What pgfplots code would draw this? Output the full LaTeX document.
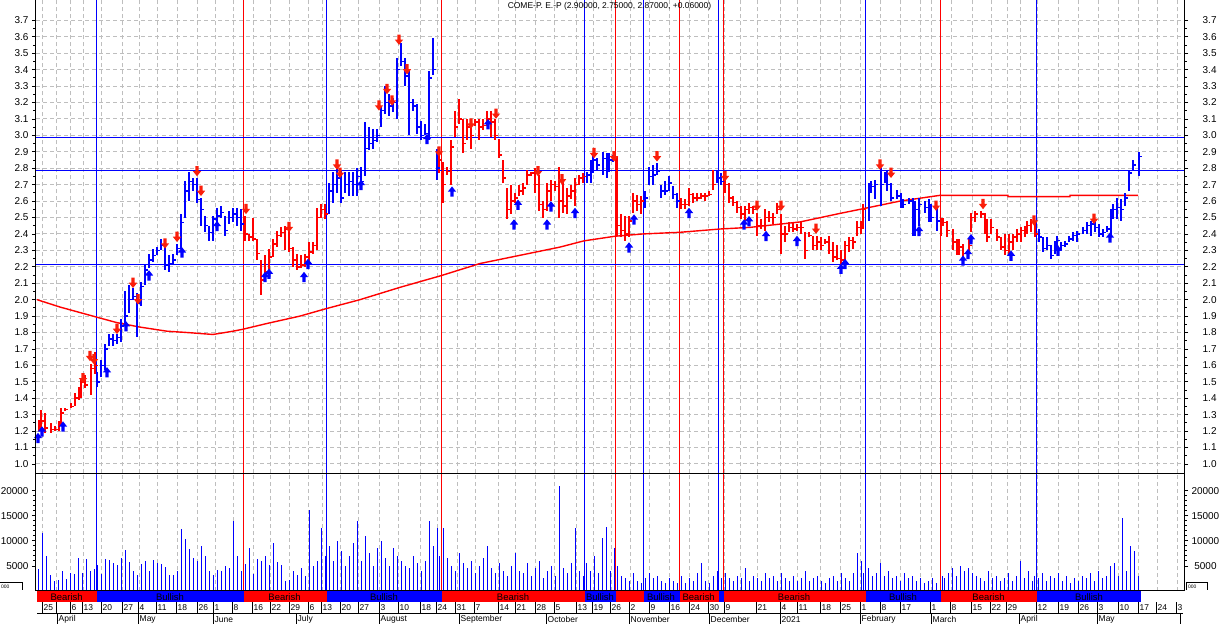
\documentclass[border=0pt]{standalone}
\usepackage{fontspec}
\setmainfont{Liberation Sans}
\usepackage{pgfplots}
\usepackage{pgfplotstable}
\pgfplotsset{compat=1.18}
\pgfdeclareplotmark{rtick}{\pgfpathmoveto{\pgfqpoint{0bp}{0bp}}\pgfpathlineto{\pgfqpoint{3bp}{0bp}}\pgfusepathqstroke}
\pgfdeclareplotmark{darr}{%
 \pgfpathmoveto{\pgfqpoint{-1.6bp}{5.5bp}}\pgfpathlineto{\pgfqpoint{1.6bp}{5.5bp}}%
 \pgfpathlineto{\pgfqpoint{1.6bp}{0.5bp}}\pgfpathlineto{\pgfqpoint{4.2bp}{0.5bp}}%
 \pgfpathlineto{\pgfqpoint{0bp}{-4.8bp}}\pgfpathlineto{\pgfqpoint{-4.2bp}{0.5bp}}%
 \pgfpathlineto{\pgfqpoint{-1.6bp}{0.5bp}}\pgfpathclose\pgfusepathqfill}
\pgfdeclareplotmark{uarr}{%
 \pgfpathmoveto{\pgfqpoint{-1.6bp}{-5.5bp}}\pgfpathlineto{\pgfqpoint{1.6bp}{-5.5bp}}%
 \pgfpathlineto{\pgfqpoint{1.6bp}{-0.5bp}}\pgfpathlineto{\pgfqpoint{4.2bp}{-0.5bp}}%
 \pgfpathlineto{\pgfqpoint{0bp}{4.8bp}}\pgfpathlineto{\pgfqpoint{-4.2bp}{-0.5bp}}%
 \pgfpathlineto{\pgfqpoint{-1.6bp}{-0.5bp}}\pgfpathclose\pgfusepathqfill}

\pgfplotstableread{
x l h c v
38 1.20 1.27 1.22 4400
42 1.21 1.33 1.26 11600
46 1.19 1.31 1.22 6900
50 1.19 1.25 1.21 3200
54 1.20 1.23 1.21 1900
58 1.20 1.26 1.25 2200
62 1.23 1.34 1.31 4000
66 1.32 1.34 1.33 2300
70 1.34 1.37 1.35 3600
74 1.35 1.43 1.40 3400
78 1.39 1.47 1.44 6600
82 1.40 1.52 1.50 3600
86 1.46 1.54 1.48 6300
90 1.42 1.61 1.58 4000
94 1.55 1.68 1.60 4400
245 2.36 2.51 2.40 5400
249 2.36 2.40 2.38 8600
253 2.36 2.50 2.37 3400
257 2.24 2.37 2.28 6400
261 2.03 2.24 2.12 6000
265 2.15 2.27 2.17 7000
269 2.16 2.31 2.26 5100
273 2.26 2.37 2.34 9600
277 2.32 2.42 2.39 5700
281 2.38 2.44 2.41 5200
285 2.30 2.45 2.43 2000
289 2.29 2.44 2.31 2200
293 2.20 2.32 2.24 3900
297 2.18 2.28 2.20 3200
301 2.19 2.27 2.21 4500
305 2.20 2.28 2.26 3000
309 2.21 2.35 2.29 16200
313 2.28 2.35 2.33 5000
317 2.30 2.56 2.50 6000
321 2.50 2.58 2.55 12500
325 2.49 2.58 2.52 7000
439 2.77 2.91 2.85 7000
443 2.59 2.84 2.70 12500
447 2.76 2.81 2.78 6500
451 2.70 2.97 2.93 5000
455 2.99 3.15 3.05 4000
459 3.07 3.22 3.10 7500
463 2.89 3.10 2.95 5500
467 2.97 3.10 3.05 4500
471 2.92 3.07 3.00 6000
475 3.06 3.10 3.08 3500
479 2.97 3.10 3.05 5000
483 3.03 3.10 3.06 6500
487 3.06 3.15 3.10 9000
491 2.99 3.15 3.08 4500
495 2.97 3.10 3.00 3500
499 2.86 2.98 2.88 5500
503 2.71 2.85 2.74 4000
507 2.49 2.68 2.55 3000
511 2.52 2.70 2.60 5000
515 2.59 2.65 2.62 7500
519 2.63 2.70 2.66 4000
523 2.64 2.71 2.68 3500
527 2.70 2.79 2.76 5500
531 2.75 2.78 2.77 3000
535 2.65 2.80 2.70 4500
539 2.54 2.76 2.58 6000
543 2.50 2.60 2.55 2500
547 2.54 2.71 2.66 4000
551 2.60 2.73 2.70 5000
555 2.66 2.72 2.69 3000
559 2.50 2.81 2.60 21000
563 2.53 2.73 2.57 4500
567 2.52 2.68 2.63 3500
571 2.61 2.70 2.66 5500
575 2.57 2.74 2.70 12500
579 2.70 2.76 2.74 4000
583 2.71 2.77 2.75 3000
617 2.39 2.87 2.45 5000
621 2.38 2.52 2.42 3000
625 2.36 2.51 2.40 2500
629 2.38 2.51 2.48 2000
633 2.53 2.65 2.60 3500
637 2.54 2.64 2.58 2000
641 2.52 2.63 2.60 1500
681 2.55 2.62 2.58 3000
685 2.55 2.61 2.58 1500
689 2.57 2.68 2.64 2500
693 2.59 2.65 2.62 2000
697 2.60 2.65 2.62 3500
701 2.61 2.65 2.63 5500
705 2.60 2.65 2.63 2000
709 2.63 2.66 2.64 1500
713 2.67 2.79 2.70 3000
725 2.65 2.77 2.70 3500
729 2.59 2.71 2.62 2500
733 2.57 2.63 2.59 2000
737 2.53 2.60 2.56 3000
741 2.49 2.57 2.52 2500
745 2.48 2.57 2.55 4500
749 2.52 2.59 2.56 2000
753 2.52 2.57 2.55 3000
757 2.39 2.53 2.45 2500
761 2.43 2.49 2.45 2000
765 2.42 2.55 2.50 3500
769 2.47 2.54 2.50 2500
773 2.46 2.53 2.50 3000
777 2.52 2.59 2.55 2000
781 2.28 2.52 2.40 3500
785 2.35 2.45 2.40 2500
789 2.41 2.47 2.44 2000
793 2.41 2.47 2.43 3000
797 2.42 2.46 2.44 2000
801 2.40 2.47 2.44 2500
805 2.25 2.41 2.30 4000
809 2.38 2.41 2.39 2000
813 2.30 2.39 2.33 2500
817 2.30 2.39 2.35 3000
821 2.30 2.38 2.33 2000
825 2.34 2.37 2.35 1500
829 2.28 2.39 2.30 2500
833 2.23 2.35 2.26 3000
837 2.24 2.33 2.25 2000
841 2.21 2.30 2.24 3500
845 2.23 2.36 2.33 2500
849 2.29 2.38 2.36 2000
853 2.31 2.38 2.35 3500
857 2.39 2.48 2.44 7500
861 2.40 2.48 2.45 6000
863 2.43 2.58 2.55 3500
942 2.39 2.50 2.45 3000
944 2.45 2.50 2.47 2500
948 2.38 2.48 2.42 3500
952 2.30 2.43 2.35 4500
956 2.27 2.37 2.30 3000
960 2.27 2.37 2.32 5000
964 2.25 2.34 2.28 4000
968 2.28 2.37 2.33 4500
972 2.41 2.53 2.50 3500
976 2.47 2.54 2.52 3000
980 2.50 2.54 2.52 2500
984 2.40 2.53 2.43 2000
988 2.35 2.49 2.38 4000
992 2.40 2.49 2.44 2500
996 2.36 2.43 2.38 3000
1000 2.30 2.38 2.32 2000
1004 2.27 2.40 2.30 2500
1008 2.27 2.40 2.35 3500
1012 2.30 2.40 2.38 2000
1016 2.35 2.43 2.40 3000
1020 2.35 2.44 2.42 6000
1024 2.38 2.45 2.43 2500
1028 2.40 2.48 2.45 4000
1032 2.41 2.49 2.47 2000
1034 2.38 2.47 2.40 3000
}\redbars

\pgfplotstableread{
x l h c v
97 1.47 1.56 1.50 5200
101 1.53 1.63 1.60 3400
105 1.57 1.73 1.70 6400
109 1.72 1.79 1.76 6200
113 1.72 1.79 1.75 5600
117 1.73 1.79 1.77 5200
121 1.74 1.88 1.84 6600
125 1.86 2.05 1.90 8200
129 1.92 2.09 2.00 5800
133 2.00 2.07 2.02 4000
137 1.77 2.04 1.98 3100
141 1.96 2.11 2.08 5400
145 2.09 2.21 2.18 6000
149 2.19 2.28 2.24 4000
153 2.23 2.31 2.27 6200
157 2.27 2.32 2.30 5600
161 2.30 2.37 2.33 5400
165 2.18 2.33 2.21 4800
169 2.17 2.27 2.22 3200
173 2.22 2.28 2.24 3200
177 2.27 2.34 2.31 3900
181 2.31 2.52 2.47 12400
185 2.50 2.72 2.66 10400
189 2.60 2.78 2.72 8400
193 2.66 2.74 2.70 6600
197 2.59 2.74 2.61 5900
201 2.45 2.62 2.55 9000
205 2.41 2.51 2.45 7000
209 2.36 2.45 2.41 4000
213 2.36 2.51 2.49 3200
217 2.46 2.56 2.51 4200
221 2.50 2.57 2.53 4000
225 2.39 2.51 2.42 5000
229 2.46 2.54 2.50 4600
233 2.47 2.56 2.52 14000
237 2.45 2.56 2.50 7000
241 2.42 2.55 2.46 4000
329 2.52 2.71 2.66 9000
333 2.59 2.78 2.70 6000
337 2.65 2.83 2.74 10000
341 2.59 2.79 2.62 8000
345 2.65 2.78 2.70 5000
349 2.63 2.78 2.72 7000
353 2.63 2.78 2.70 9500
357 2.63 2.80 2.75 14000
361 2.69 2.81 2.72 6000
365 2.75 3.08 2.92 11000
369 2.91 3.05 2.95 7500
373 2.92 3.04 2.97 5000
377 2.96 3.04 3.00 8500
381 3.05 3.18 3.15 10000
385 3.13 3.30 3.20 6500
389 3.12 3.25 3.18 5000
393 3.14 3.23 3.20 8500
397 3.10 3.47 3.40 7000
401 3.42 3.56 3.45 6000
405 3.30 3.47 3.36 5000
409 3.00 3.40 3.20 4500
413 3.15 3.22 3.18 7000
417 3.01 3.19 3.05 5500
421 2.97 3.09 3.00 4000
425 3.00 3.07 3.01 6000
429 2.97 3.39 3.35 14000
433 3.37 3.59 3.40 9000
437 2.73 2.92 2.80 12500
586 2.71 2.78 2.76 5500
590 2.71 2.85 2.80 4000
594 2.77 2.88 2.85 7000
598 2.79 2.86 2.82 3500
602 2.76 2.90 2.86 10500
606 2.74 2.89 2.80 12800
610 2.78 2.89 2.85 4000
614 2.84 2.88 2.86 8500
645 2.56 2.66 2.62 2500
649 2.70 2.81 2.75 3500
653 2.70 2.82 2.76 2500
657 2.76 2.83 2.78 3000
661 2.62 2.70 2.66 2000
665 2.64 2.72 2.66 1500
669 2.66 2.75 2.71 2500
673 2.61 2.69 2.64 2000
677 2.56 2.65 2.60 1500
717 2.71 2.79 2.74 4000
721 2.70 2.77 2.72 2500
868 2.48 2.71 2.66 4500
872 2.65 2.72 2.69 3000
876 2.61 2.73 2.70 3500
880 2.57 2.80 2.70 5500
884 2.71 2.78 2.75 3000
888 2.66 2.79 2.70 4000
892 2.60 2.71 2.62 2500
896 2.61 2.67 2.63 3000
900 2.56 2.65 2.60 2000
904 2.56 2.61 2.58 3500
908 2.58 2.62 2.60 2500
912 2.39 2.62 2.45 3000
916 2.39 2.60 2.55 2000
920 2.45 2.62 2.58 2500
924 2.53 2.60 2.56 1500
928 2.47 2.61 2.52 2000
932 2.47 2.58 2.50 2500
936 2.42 2.57 2.48 1500
1038 2.35 2.43 2.38 2500
1042 2.29 2.38 2.31 3500
1046 2.30 2.38 2.33 2000
1050 2.25 2.33 2.27 3000
1054 2.28 2.36 2.33 2500
1058 2.31 2.39 2.36 3500
1062 2.30 2.35 2.33 2000
1066 2.32 2.36 2.34 3000
1070 2.35 2.39 2.37 1500
1074 2.36 2.41 2.39 2500
1078 2.35 2.42 2.40 2000
1082 2.40 2.44 2.42 3000
1086 2.40 2.47 2.45 2500
1090 2.39 2.48 2.46 3500
1094 2.41 2.48 2.44 2000
1098 2.38 2.46 2.40 4000
1102 2.38 2.43 2.41 2500
1106 2.41 2.45 2.43 3000
1110 2.39 2.55 2.52 5000
1114 2.49 2.58 2.55 5500
1118 2.49 2.62 2.56 3000
1122 2.48 2.61 2.55 14500
1126 2.57 2.65 2.62 4000
1130 2.66 2.79 2.77 9000
1134 2.79 2.85 2.82 8000
1138 2.75 2.90 2.87 3000
}\bluebars

\definecolor{gridgray}{RGB}{190,190,190}
\definecolor{arrred}{RGB}{250,30,10}
\def\weeks{42.5,56.5,70.5,83.5,101.5,122.5,139.5,157.5,177.5,197.5,215.5,233.5,253.5,270.5,289.5,308.5,322.5,340.5,358.5,379.5,398.5,420.5,437.5,457.5,475.5,498.5,515.5,535.5,554.5,576.5,593.5,611.5,630.5,649.5,669.5,689.5,708.5,724.5,740.5,757.5,780.5,797.5,820.5,840.5,860.5,880.5,900.5,920.5,931.5,951.5,972.5,991.5,1007.5,1020.5,1037.5,1058.5,1078.5,1098.5,1118.5,1138.5,1157.5,1177.5}

\pgfplotsset{
 base/.style={scale only axis, width=1148bp, xmin=36, xmax=1184,
  axis line style={draw=none}, tick align=outside,
  major tick length=4bp, minor tick length=2.5bp,
  every tick/.style={black, line width=0.8bp},
  xtick/.expanded=\weeks, xticklabels={}, xtick style={draw=none},
  major grid style={draw=gridgray, dash pattern=on 4bp off 3bp, line width=1bp},
  yticklabel style={font=\fontsize{10}{12}\selectfont, black},
  /pgf/number format/assume math mode=true},
 pricey/.style={ymin=0.943, ymax=3.824,
  ytick={1.0,1.1,1.2,1.3,1.4,1.5,1.6,1.7,1.8,1.9,2.0,2.1,2.2,2.3,2.4,2.5,2.6,2.7,2.8,2.9,3.0,3.1,3.2,3.3,3.4,3.5,3.6,3.7},
  minor y tick num=1,
  yticklabel style={/pgf/number format/.cd, fixed, fixed zerofill, precision=1, /tikz/.cd}},
 voly/.style={ymin=0, ymax=23446, ytick={5000,10000,15000,20000}, minor y tick num=4,
  scaled y ticks=false,
  yticklabel style={/pgf/number format/.cd, fixed, set thousands separator={}, /tikz/.cd}},
 rightlab/.style={yticklabel pos=right, yticklabel style={text width=25bp, align=right}},
 ohlc/.style={only marks, mark=rtick, mark options={draw=#1, line width=1.5bp},
   error bars/.cd, y dir=both, y explicit, error mark=none,
   error mark options={draw=none},
   error bar style={draw=#1, line width=1.6bp, solid}}
}

\begin{document}
\begin{tikzpicture}[x=1bp,y=1bp]
\useasboundingbox (0,-624) rectangle (1220,0);

% ---------------- price panel ----------------
\begin{axis}[base, pricey, at={(36bp,0bp)}, anchor=north west, height=473.3bp,
  xmajorgrids, ymajorgrids]
 \pgfplotsinvokeforeach{96.5,326.5,584.5,643.5,718.5,865.5,1036.5}{\draw[blue, line width=1bp] (axis cs:#1,0.9) -- (axis cs:#1,3.9);}
 \pgfplotsinvokeforeach{243.5,441.5,615.5,679.5,723.5,940.5}{\draw[red, line width=1bp] (axis cs:#1,0.9) -- (axis cs:#1,3.9);}
 \draw[blue, line width=1bp] (axis cs:36,2.987) -- (axis cs:1184,2.987);
 \draw[blue, line width=1bp] (axis cs:36,2.786) -- (axis cs:1184,2.786);
 \draw[blue, line width=1bp] (axis cs:36,2.214) -- (axis cs:1184,2.214);
 % moving average
 \addplot[red, line width=1.4bp, no marks] coordinates {
  (37,2.0) (60,1.955) (97,1.893) (117,1.86) (140,1.833) (167,1.808) (187,1.80) (213,1.788)
  (233,1.808) (243,1.82) (267,1.855) (300,1.90) (326,1.945) (360,2.0) (400,2.075) (441,2.146)
  (480,2.22) (520,2.27) (560,2.32) (584,2.358) (615,2.386) (643,2.40) (680,2.41) (720,2.43)
  (750,2.44) (800,2.473) (840,2.525) (865,2.556) (900,2.60) (940,2.635) (1008,2.635)
  (1008,2.627) (1070,2.627) (1070,2.635) (1138,2.635)};
 % OHLC bars
 \addplot[ohlc=red]
   table[x expr={2*floor(\thisrow{x}/2)+1}, y=c, y error plus expr=\thisrow{h}-\thisrow{c}, y error minus expr=\thisrow{c}-\thisrow{l}] {\redbars};
 \addplot[ohlc=blue]
   table[x expr={2*floor(\thisrow{x}/2)+1}, y=c, y error plus expr=\thisrow{h}-\thisrow{c}, y error minus expr=\thisrow{c}-\thisrow{l}] {\bluebars};
 % signal arrows
 \addplot[only marks, mark=darr, mark options={fill=arrred}] coordinates {
  (83,1.52) (90,1.655) (94,1.635) (117,1.82) (133,2.10) (138,2.00) (165,2.34) (177,2.38)
  (197,2.78) (201,2.66) (246,2.55) (289,2.44) (337,2.82) (340,2.77) (379,3.18) (387,3.28)
  (392,3.21) (399,3.58) (407,3.40) (439,2.90) (471,3.07) (496,3.13) (538,2.78) (562,2.73)
  (594,2.89) (614,2.87) (657,2.87) (725,2.75) (757,2.57) (781,2.57) (816,2.43) (880,2.82)
  (891,2.77) (936,2.57) (983,2.58) (1034,2.48) (1094,2.49)};
 \addplot[only marks, mark=uarr, mark options={fill=blue}] coordinates {
  (38,1.16) (42,1.20) (63,1.23) (107,1.56) (126,1.84) (149,2.15) (182,2.29) (217,2.45)
  (265,2.14) (269,2.16) (304,2.14) (308,2.22) (361,2.70) (427,2.98) (452,2.66) (488,3.07)
  (514,2.46) (518,2.58) (547,2.46) (551,2.57) (575,2.53) (629,2.32) (634,2.49) (689,2.53)
  (744,2.46) (749,2.48) (766,2.39) (797,2.36) (841,2.19) (845,2.22) (919,2.42) (963,2.24)
  (968,2.28) (971,2.37) (1011,2.27) (1058,2.30) (1110,2.38)};
\end{axis}
\begin{axis}[base, pricey, rightlab, at={(36bp,0bp)}, anchor=north west, height=473.3bp]
\end{axis}

% ---------------- volume panel ----------------
\begin{axis}[base, voly, at={(36bp,-473.3bp)}, anchor=north west, height=117.7bp, xmajorgrids]
 \pgfplotsinvokeforeach{96.5,326.5,584.5,643.5,718.5,865.5,1036.5}{\draw[blue, line width=1bp] (axis cs:#1,0) -- (axis cs:#1,24000);}
 \pgfplotsinvokeforeach{243.5,441.5,615.5,679.5,723.5,940.5}{\draw[red, line width=1bp] (axis cs:#1,0) -- (axis cs:#1,24000);}
 \addplot[ycomb, blue, line width=1bp, no marks] table[x expr=\thisrow{x}+0.5, y=v] {\redbars};
 \addplot[ycomb, blue, line width=1bp, no marks] table[x expr=\thisrow{x}+0.5, y=v] {\bluebars};
\end{axis}
\begin{axis}[base, voly, rightlab, at={(36bp,-473.3bp)}, anchor=north west, height=117.7bp]
\end{axis}

% ---------------- frame ----------------
\draw[black, line width=1.2bp] (35.5,0) -- (35.5,-591);
\draw[black, line width=1.2bp] (1184.5,0) -- (1184.5,-591);
\draw[black, line width=1.2bp] (35,-473.5) -- (1184.5,-473.5);
\draw[black, line width=1.2bp] (35.5,-590.5) -- (1184.5,-590.5);
% volume unit boxes
\draw[black, line width=1bp] (0,-582.5) -- (22.5,-582.5) -- (22.5,-590);
\node[anchor=west, inner sep=0pt, font=\fontsize{5}{5}\selectfont] at (1,-586.5) {000};
\draw[black, line width=1bp] (1186.5,-590) -- (1186.5,-582.5) -- (1207.5,-582.5) -- (1207.5,-590);
\node[anchor=west, inner sep=0pt, font=\fontsize{5}{5}\selectfont] at (1188,-586.5) {000};

% ---------------- trend band ----------------
\fill[red]  (37,-591) rectangle (96.5,-602);
\fill[blue] (96.5,-591) rectangle (243.5,-602);
\fill[red]  (243.5,-591) rectangle (326.5,-602);
\fill[blue] (326.5,-591) rectangle (441.5,-602);
\fill[red]  (441.5,-591) rectangle (584.5,-602);
\fill[blue] (584.5,-591) rectangle (615.5,-602);
\fill[red]  (615.5,-591) rectangle (643.5,-602);
\fill[blue] (643.5,-591) rectangle (679.5,-602);
\fill[red]  (679.5,-591) rectangle (718.5,-602);
\fill[blue] (718.5,-591) rectangle (723.5,-602);
\fill[red]  (723.5,-591) rectangle (865.5,-602);
\fill[blue] (865.5,-591) rectangle (940.5,-602);
\fill[red]  (940.5,-591) rectangle (1036.5,-602);
\fill[blue] (1036.5,-591) rectangle (1141,-602);
\begin{scope}[every node/.style={font=\fontsize{9.5}{9.5}\selectfont, inner sep=0pt, text=black}]
 \node at (66.7,-596.7) {Bearish};
 \node at (170,-596.7) {Bullish};
 \node at (284.5,-596.7) {Bearish};
 \node at (384,-596.7) {Bullish};
 \node at (513,-596.7) {Bearish};
 \node at (600,-596.7) {Bullish};
 \node at (661,-596.7) {Bullish};
 \node at (698.7,-596.7) {Bearish};
 \node at (794,-596.7) {Bearish};
 \node at (903,-596.7) {Bullish};
 \node at (988.5,-596.7) {Bearish};
 \node at (1089,-596.7) {Bullish};
\end{scope}

% ---------------- date rows ----------------
\draw[black, line width=1.2bp] (37,-613.5) -- (1183,-613.5);
\foreach \xx/\lab in {42.5/25,56.5/,70.5/6,82.5/13,101.5/20,122.5/27,138.5/4,156.5/11,176.5/18,197.5/26,213.5/1,232.5/8,252.5/16,270.5/22,289.5/29,308.5/6,321.5/13,340.5/20,358.5/27,379.5/3,398.5/10,420.5/18,436.5/24,455.5/31,474.5/7,498.5/14,515.5/21,535.5/28,554.5/5,576.5/13,592.5/19,610.5/26,629.5/2,649.5/9,669.5/16,689.5/24,708.5/30,724.5/9,756.5/21,780.5/4,797.5/11,820.5/18,840.5/25,860.5/1,880.5/8,900.5/17,930.5/1,950.5/8,971.5/15,990.5/22,1006.5/29,1036.5/12,1058.5/19,1078.5/26,1097.5/3,1118.5/10,1138.5/17,1156.5/24,1176.5/3}{
 \draw[black, line width=1.2bp] (\xx,-602) -- (\xx,-613);
 \node[anchor=west, inner sep=0pt, font=\fontsize{8.5}{8.5}\selectfont] at (\xx+1,-607.7) {\lab};
}
\foreach \xx/\lab in {57.5/April,138.5/May,213.5/June,296.5/July,379.5/August,459.5/September,546.5/October,629.5/November,709.5/December,780.5/2021,860.5/February,931.5/March,1019.5/April,1097.5/May,1180.5/}{
 \draw[black, line width=1.2bp] (\xx,-613) -- (\xx,-624);
 \node[anchor=west, inner sep=0pt, font=\fontsize{8.5}{8.5}\selectfont] at (\xx+1,-619.3) {\lab};
}

% ---------------- title ----------------
\node[font=\fontsize{8.5}{8.5}\selectfont, inner sep=0pt] at (609.5,-6.8) {COME-P. E.-P (2.90000, 2.75000, 2.87000, +0.06000)};
\end{tikzpicture}
\end{document}
